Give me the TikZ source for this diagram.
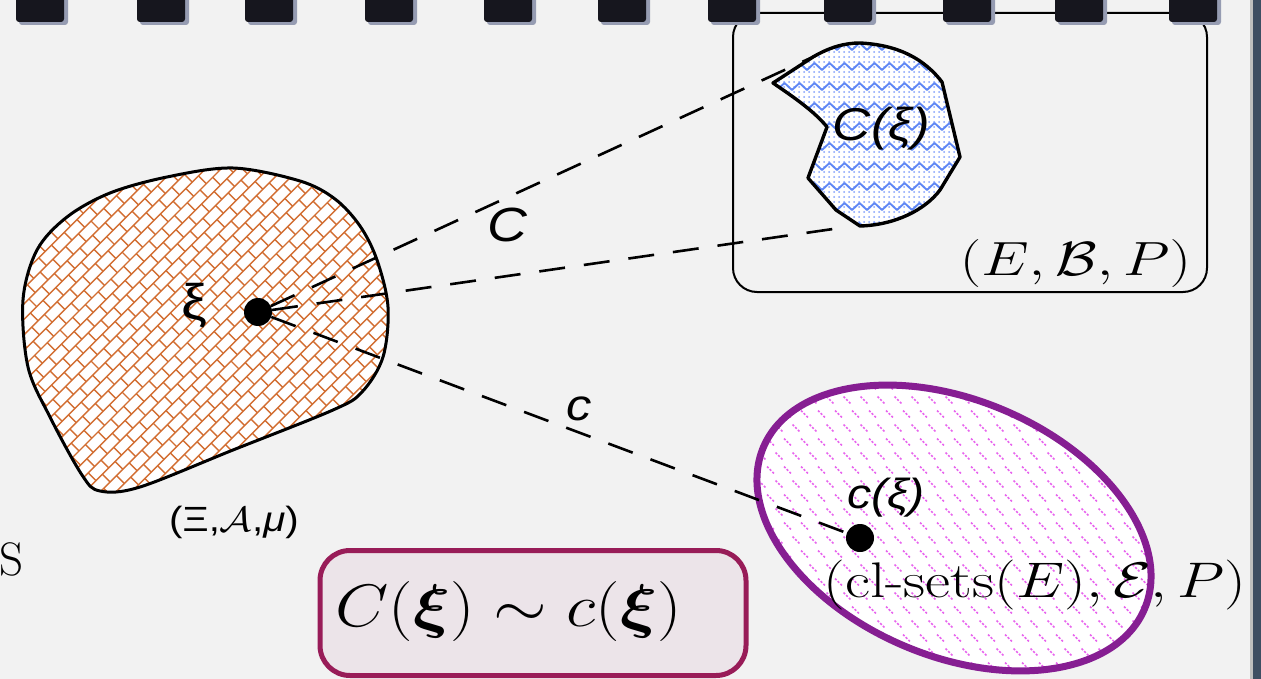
\RequirePackage{fix-cm}
\documentclass[tikz,border=0pt]{standalone}
\usepackage{amsmath}
\usepackage{bm}
\usepackage{fontspec}
\newfontfamily\lsans{Liberation Sans}
\newcommand\hstr[2][1.15]{\scalebox{#1}[1]{#2}}
\definecolor{bg}{RGB}{242,242,242}
\definecolor{holec}{RGB}{22,22,30}
\definecolor{holesh}{RGB}{150,156,178}
\definecolor{edgebar}{RGB}{62,78,98}
\definecolor{brick}{RGB}{210,110,50}
\definecolor{zig}{RGB}{95,135,245}
\definecolor{zigdot}{RGB}{130,160,252}
\definecolor{mag}{RGB}{232,100,238}
\definecolor{ellc}{RGB}{134,30,146}
\definecolor{boxc}{RGB}{152,28,88}
\definecolor{boxf}{RGB}{236,228,233}
\begin{document}
\begin{tikzpicture}[x=1pt,y=-1pt,line join=round,
  cline/.style={draw=black,line width=2.6pt,dash pattern=on 26pt off 19pt},
  dot/.style={circle,fill=black,inner sep=0pt,minimum size=28pt},
  brickln/.style={draw=brick,line width=1.4pt},
  sl/.style={inner sep=0pt,anchor=center},
  outl/.style={draw=black,line width=3pt}]
\fill[bg] (0,0) rectangle (1261,679);
\useasboundingbox (0,0) rectangle (1261,679);

% ---------- orange blob (Xi, A, mu)
\def\blobA{plot[smooth cycle,tension=0.55] coordinates {(167,177) (233,168) (300,181) (335,199) (360,226) (377,260) (388,307) (383,357) (362,392) (333,410) (233,450) (140,487) (100,491) (82,475) (50,417) (28,367) (23,300) (37,250) (67,217) (110,193)}}
\begin{scope}
  \clip \blobA;
  \fill[white] (0,140) rectangle (420,520);
  \begin{scope}[shift={(200,330)},rotate=45]
    \foreach \j in {-22,...,22}{
      \draw[brickln] (-300,\j*11) -- (300,\j*11);
      \pgfmathsetmacro\boff{mod(\j+100,2)*9}
      \foreach \i in {-17,...,17}{
        \draw[brickln] (\i*18+\boff,\j*11) -- (\i*18+\boff,\j*11+11);
      }
    }
  \end{scope}
\end{scope}
\draw[outl] \blobA;

% ---------- (E,B,P) box and blue blob C(xi)
\node[draw=black,line width=2pt,rounded corners=24pt,minimum width=474pt,minimum height=279pt,inner sep=0pt] (ebox) at (970,152.5) {};
\def\blobB{(773,83) -- (813,57) .. controls (830,47) and (845,43) .. (860,43) .. controls (900,45) and (925,60) .. (942,82) -- (960,157) -- (940,190) .. controls (925,210) and (895,225) .. (860,226) -- (836,210) -- (808,178) -- (827,127) .. controls (815,112) and (795,98) .. cycle}
\begin{scope}
  \clip \blobB;
  \fill[white] (760,35) rectangle (970,235);
  \foreach \dx in {0,...,40}{\foreach \dy in {0,...,40}{
    \fill[zigdot] (764+\dx*5,37+\dy*5) circle (1pt);}}
  \foreach \k in {0,...,9}{
    \draw[zig,line width=1.9pt] (762,{50+\k*20}) \foreach \m in {1,...,28}{ -- ({762+\m*7.5},{50+\k*20-7*mod(\m,2)}) };
  }
\end{scope}
\draw[outl,line width=3.4pt] \blobB;

% ---------- purple ellipse
\begin{scope}
  \clip[rotate around={-23:(954,528)}] (954,528) ellipse [x radius=207pt,y radius=128pt];
  \fill[white] (740,370) rectangle (1175,690);
  \foreach \ix in {0,...,25}{\foreach \iy in {0,...,23}{
    \pgfmathsetmacro\mx{745+\ix*17+mod(\iy,2)*8.5}
    \pgfmathsetmacro\my{372+\iy*14}
    \draw[mag,line width=1.5pt,dash pattern=on 2.2pt off 1.6pt] (\mx-3.5,\my-3.5) -- (\mx+3.5,\my+3.5);
  }}
\end{scope}
\draw[ellc,line width=7pt,rotate around={-23:(954,528)}] (954,528) ellipse [x radius=207pt,y radius=128pt];

% ---------- bottom box
\node[draw=boxc,fill=boxf,line width=5pt,rounded corners=30pt,minimum width=426pt,minimum height=125pt,inner sep=0pt] (eqbox) at (533,613) {};

% ---------- points and connectors
\node[dot] (xi) at (258,312) {};
\node[dot] (cxi) at (860,538) {};
\coordinate (Ctop) at (815,56);
\coordinate (Cbot) at (840,228);
\draw[cline] (xi) -- (Ctop);
\draw[cline] (xi) -- (Cbot);
\draw[cline] (xi) -- (cxi);

% ---------- labels
\node[sl,font=\lsans\fontsize{50}{54}\selectfont] (xilab) at (194,306) {\hstr{ξ}};
\node[sl,font=\lsans\itshape\fontsize{48}{54}\selectfont] (Clab) at (507,224.5) {\hstr{C}};
\node[sl,font=\lsans\itshape\fontsize{44}{50}\selectfont] (clab) at (579,408.5) {\hstr{c}};
\node[sl,font=\lsans\itshape\fontsize{46}{50}\selectfont] (Cxilab) at (881.5,128.5) {\hstr{C(ξ)}};
\node[sl,font=\lsans\itshape\fontsize{42}{48}\selectfont] (cxilab) at (886,498) {\hstr{c(ξ)}};
\node[sl,font=\lsans\fontsize{35}{40}\selectfont] (xilab2) at (234,522.5) {\hstr{(Ξ,$\mathcal{A}$,\textit{μ})}};
\node[sl,font=\fontsize{48}{54}\selectfont] (ebplab) at (1075.5,264) {\hstr[1.26]{$(E,\mathcal{B},P)$}};
\node[sl,font=\fontsize{50}{56}\selectfont] (clslab) at (1035,585) {\hstr[1.227]{(cl-sets$(E),\mathcal{E},P)$}};
\node[sl,font=\fontsize{60}{66}\selectfont] (eqlab) at (508.5,611) {\hstr{$C(\bm{\xi})\sim c(\bm{\xi})$}};
\node[inner sep=0pt,anchor=east,font=\fontsize{47}{52}\selectfont] (slab) at (24,559) {S};

% ---------- binder holes and right edge
\foreach \hx in {16,137,245,365,484,598,708,824,943,1055,1169}{
  \fill[holesh,rounded corners=3pt] (\hx+3,-5) rectangle (\hx+52,25);
  \fill[holec,rounded corners=3pt] (\hx,-5) rectangle (\hx+48,22);
}
\fill[black!25] (1250,0) rectangle (1253,679);
\fill[edgebar] (1253,0) rectangle (1261,679);
\end{tikzpicture}
\end{document}
